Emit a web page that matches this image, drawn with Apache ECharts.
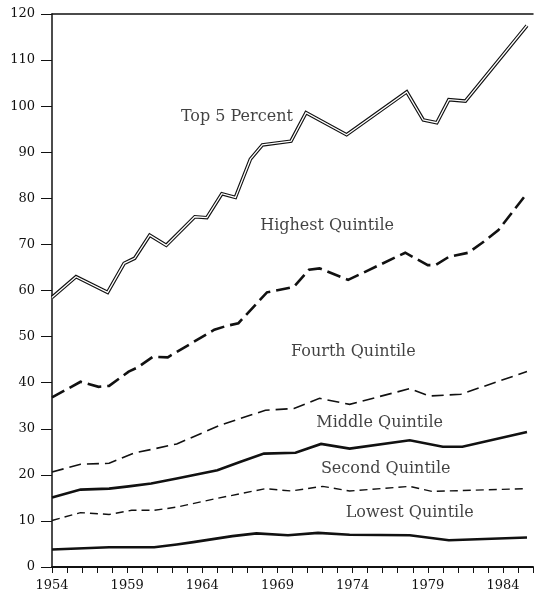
<!DOCTYPE html>
<html>
<head>
<meta charset="utf-8">
<script src="https://cdn.jsdelivr.net/npm/echarts@6/dist/echarts.min.js"></script>
<style>
  html, body { margin: 0; padding: 0; background: #fff; }
  #chart { width: 536px; height: 596px; }
</style>
</head>
<body>
<div id="chart"></div>
<script>
// [year, value] pairs
const top5 = [[1954, 58.5], [1955.6, 63], [1957.7, 59.6], [1958.8, 65.9], [1959.5, 67], [1960.5, 72], [1961.6, 69.8],
  [1963.5, 76], [1964.3, 75.8], [1965.3, 81], [1966.2, 80.2], [1967.2, 88.5], [1968, 91.6], [1969.9, 92.4],
  [1970.9, 98.6], [1973.6, 93.8], [1977.6, 103.1], [1978.7, 97], [1979.6, 96.4], [1980.4, 101.4], [1981.5, 101.1], [1985.6, 117.5]]
const highest = [[1954, 36.8], [1955.9, 40.2], [1957.1, 39.1], [1957.8, 39.3], [1959.1, 42.4], [1959.7, 43.3], [1960.7, 45.6],
  [1961.7, 45.5], [1964.8, 51.5], [1965.6, 52.3], [1966.4, 52.9], [1968.3, 59.6], [1970.1, 60.8], [1971.1, 64.5],
  [1971.8, 64.8], [1973.7, 62.3], [1977.5, 68.2], [1979, 65.5], [1979.5, 65.5], [1980.4, 67.3], [1981.7, 68.2],
  [1982.6, 70.3], [1983.7, 73.1], [1985.6, 81.1]]
const fourth = [[1954, 20.6], [1955.9, 22.3], [1957.8, 22.5], [1959.5, 24.8], [1960.6, 25.5], [1962.3, 26.7], [1965.2, 30.8],
  [1968.2, 34], [1970.1, 34.4], [1971.8, 36.6], [1973.8, 35.3], [1977.8, 38.7], [1979.1, 37.1], [1981.2, 37.5], [1985.6, 42.4]]
const middle = [[1954, 15.1], [1955.9, 16.8], [1957.8, 17], [1959.1, 17.5], [1960.6, 18.1], [1962.3, 19.2], [1965, 21],
  [1966.5, 22.8], [1968.1, 24.6], [1970.2, 24.8], [1971.9, 26.7], [1973.8, 25.7], [1977.8, 27.5], [1980, 26.1],
  [1981.3, 26.1], [1985.6, 29.3]]
const second = [[1954, 10.1], [1955.9, 11.8], [1957.8, 11.4], [1959.3, 12.3], [1960.8, 12.3], [1962.3, 13], [1965, 14.9],
  [1968.2, 17], [1969.9, 16.5], [1972, 17.5], [1973.8, 16.5], [1977.8, 17.5], [1979.3, 16.4], [1985.6, 17]]
const lowest = [[1954, 3.8], [1957.8, 4.3], [1960.8, 4.3], [1962.3, 4.9], [1963.4, 5.4], [1966, 6.7], [1967.6, 7.3],
  [1969.7, 6.9], [1971.7, 7.4], [1973.8, 7], [1977.8, 6.9], [1980.4, 5.8], [1985.6, 6.4]]

// label text and where it sits (data coords)
const labelNames = ['Top 5 Percent', 'Highest Quintile', 'Fourth Quintile', 'Middle Quintile', 'Second Quintile', 'Lowest Quintile']
const labelAt = [[1966.3, 97.7], [1972.3, 74], [1974.05, 46.6], [1975.8, 31.2], [1976.2, 21.4], [1977.8, 11.7]]

const yearMin = 1954
const yearMax = 1986
const yMax = 120

const ink = '#111'
const font = 'DejaVu Serif'

const myChart = echarts.init(document.getElementById('chart'))

const lineSeries = (data, width, type, color, z) => ({
  type: 'line',
  data: data,
  symbol: 'none',
  silent: true,
  z: z || 2,
  lineStyle: { color: color || ink, width: width, type: type || 'solid', cap: 'butt', join: 'miter' },
})

const options = {
  backgroundColor: '#fff',
  animation: false,
  grid: { left: 52, right: -7, top: 14, bottom: 29 },
  xAxis: [
    {
      type: 'value',
      min: yearMin,
      max: yearMax,
      interval: 1,
      axisLine: { lineStyle: { color: ink, width: 2 } },
      axisTick: { length: 6, lineStyle: { color: ink, width: 1 } },
      splitLine: { show: false },
      axisLabel: {
        color: ink,
        fontFamily: font,
        fontSize: 13,
        margin: 12,
        formatter: (v) => ((v - yearMin) % 5 === 0 ? String(v) : ''),
      },
    },
    {
      type: 'value',
      position: 'top',
      min: yearMin,
      max: yearMax,
      axisLine: { show: true, lineStyle: { color: ink, width: 1.5 } },
      axisTick: { show: false },
      axisLabel: { show: false },
      splitLine: { show: false },
    },
  ],
  yAxis: {
    type: 'value',
    min: 0,
    max: yMax,
    interval: 10,
    axisLine: { show: true, lineStyle: { color: ink, width: 1.5 } },
    axisTick: { show: true, length: 11, lineStyle: { color: ink, width: 1 } },
    splitLine: { show: false },
    axisLabel: { color: ink, fontFamily: font, fontSize: 13, margin: 17 },
  },
  series: [
    // double line: black stroke with a white core
    lineSeries(top5, 3.6, 'solid', ink, 3),
    lineSeries(top5, 1.3, 'solid', '#fff', 4),
    lineSeries(highest, 2.6, [14, 6]),
    lineSeries(fourth, 1.6, [12, 6]),
    lineSeries(middle, 2.6),
    lineSeries(second, 1.4, [8, 5]),
    lineSeries(lowest, 2.6),
    {
      type: 'scatter',
      symbolSize: 0,
      silent: true,
      data: labelAt.map((p, i) => ({ name: labelNames[i], value: p })),
      label: {
        show: true,
        position: 'inside',
        formatter: (p) => p.name,
        color: ink,
        textBorderWidth: 0,
        fontFamily: font,
        fontSize: 16,
      },
    },
  ],
}
myChart.setOption(options)
</script>
</body>
</html>
